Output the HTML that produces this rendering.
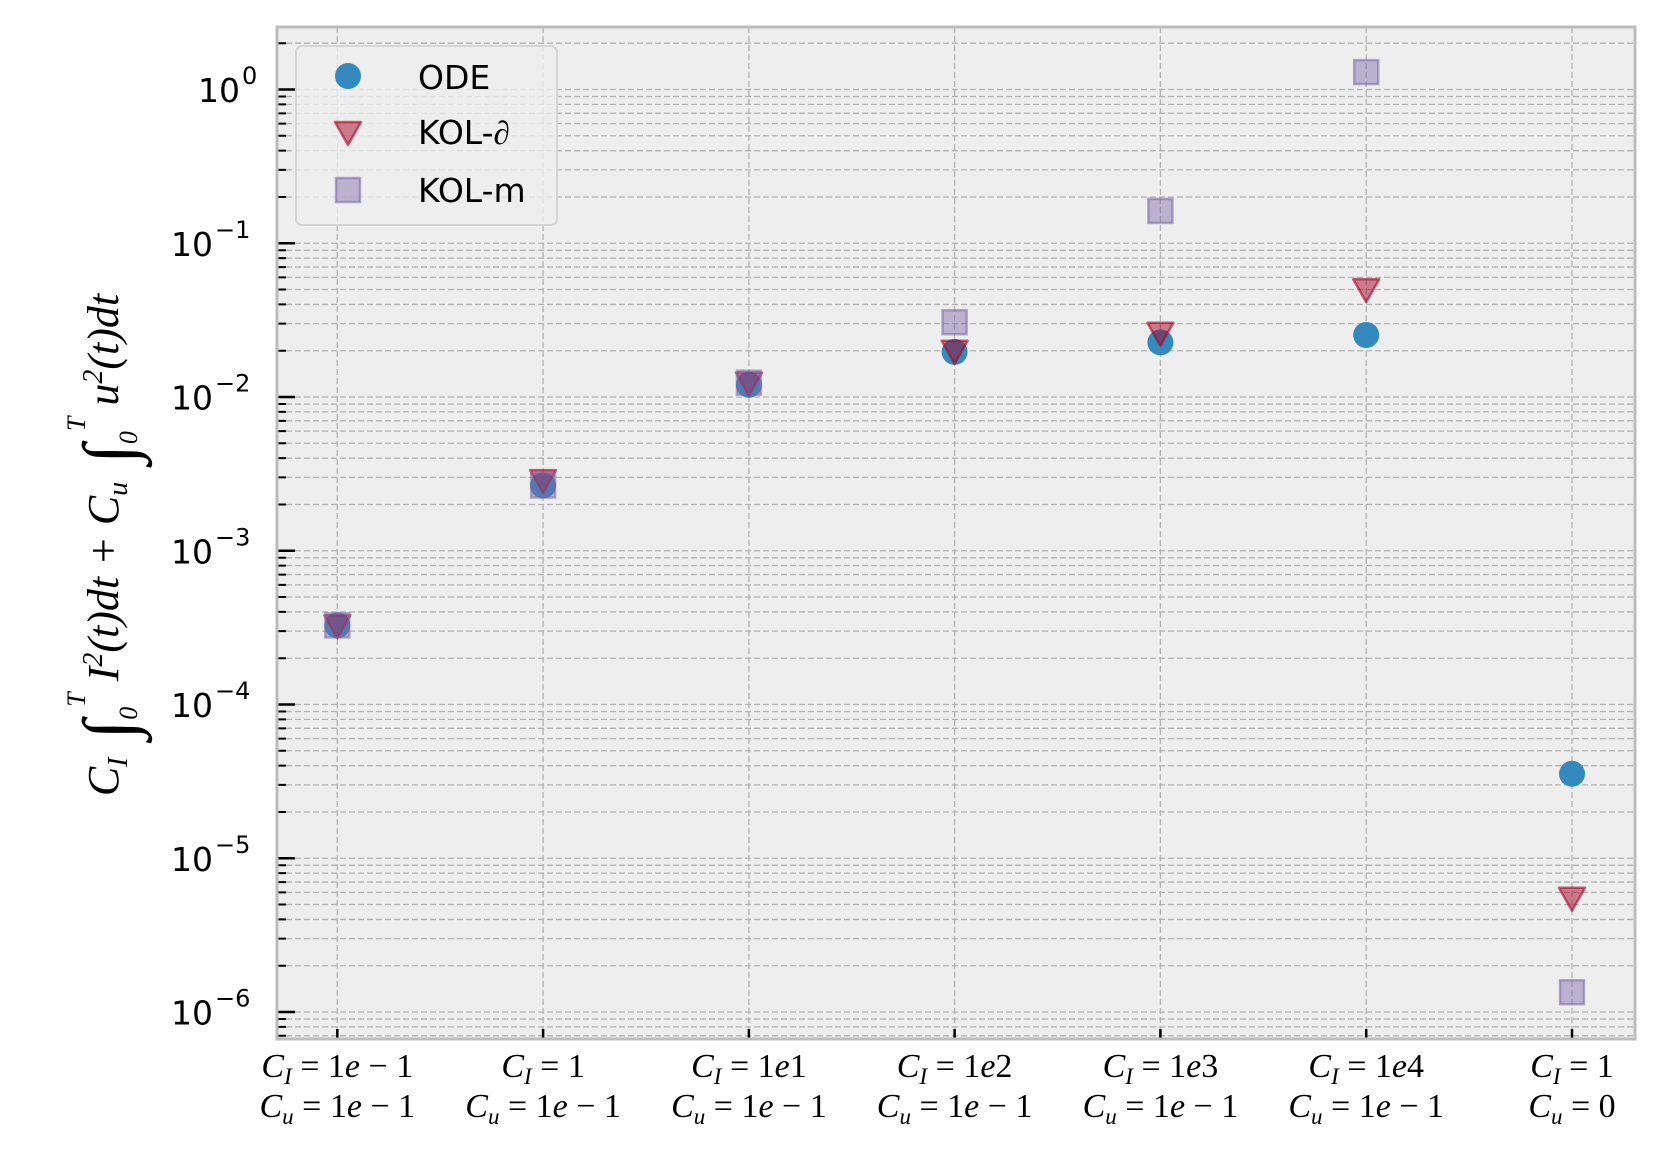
<!DOCTYPE html>
<html><head><meta charset="utf-8"><style>html,body{margin:0;padding:0;background:#fff}</style></head>
<body>
<svg width="1661" height="1153" xmlns="http://www.w3.org/2000/svg" font-family="DejaVu Sans, Liberation Sans, sans-serif">
<rect x="277" y="27" width="1358" height="1012" fill="#eeeeee"/>
<g stroke="#b2b2b2" stroke-width="1.3" stroke-dasharray="6,3" fill="none">
<path d="M277 43.2H1635M277 89.5H1635
M277 96.54H1635M277 104.4H1635M277 113.32H1635M277 123.61H1635M277 135.78H1635M277 150.68H1635M277 169.89H1635M277 196.97H1635M277 243.25H1635
M277 250.29H1635M277 258.15H1635M277 267.07H1635M277 277.36H1635M277 289.53H1635M277 304.43H1635M277 323.64H1635M277 350.72H1635M277 397H1635
M277 404.04H1635M277 411.9H1635M277 420.82H1635M277 431.11H1635M277 443.28H1635M277 458.18H1635M277 477.39H1635M277 504.47H1635M277 550.75H1635
M277 557.79H1635M277 565.65H1635M277 574.57H1635M277 584.86H1635M277 597.03H1635M277 611.93H1635M277 631.14H1635M277 658.22H1635M277 704.5H1635
M277 711.54H1635M277 719.4H1635M277 728.32H1635M277 738.61H1635M277 750.78H1635M277 765.68H1635M277 784.89H1635M277 811.97H1635M277 858.25H1635
M277 865.29H1635M277 873.15H1635M277 882.07H1635M277 892.36H1635M277 904.53H1635M277 919.43H1635M277 938.64H1635M277 965.72H1635M277 1012H1635
M277 1019.04H1635M277 1026.9H1635M277 1035.8H1635
M337.3 27V1039M543.1 27V1039M748.9 27V1039M954.6 27V1039M1160.4 27V1039M1366.2 27V1039M1572 27V1039"/>
</g>
<g stroke="#000" stroke-width="2.5" fill="none">
<path d="M277 89.5h18M277 243.25h18M277 397h18M277 550.75h18M277 704.5h18M277 858.25h18M277 1012h18
M337.3 1039v-10M543.1 1039v-10M748.9 1039v-10M954.6 1039v-10M1160.4 1039v-10M1366.2 1039v-10M1572 1039v-10"/>
<path stroke-width="2" d="M277 43.2h9
M277 96.54h9M277 104.4h9M277 113.32h9M277 123.61h9M277 135.78h9M277 150.68h9M277 169.89h9M277 196.97h9
M277 250.29h9M277 258.15h9M277 267.07h9M277 277.36h9M277 289.53h9M277 304.43h9M277 323.64h9M277 350.72h9
M277 404.04h9M277 411.9h9M277 420.82h9M277 431.11h9M277 443.28h9M277 458.18h9M277 477.39h9M277 504.47h9
M277 557.79h9M277 565.65h9M277 574.57h9M277 584.86h9M277 597.03h9M277 611.93h9M277 631.14h9M277 658.22h9
M277 711.54h9M277 719.4h9M277 728.32h9M277 738.61h9M277 750.78h9M277 765.68h9M277 784.89h9M277 811.97h9
M277 865.29h9M277 873.15h9M277 882.07h9M277 892.36h9M277 904.53h9M277 919.43h9M277 938.64h9M277 965.72h9
M277 1019.04h9M277 1026.9h9M277 1035.8h9"/>
</g>
<rect x="277" y="27" width="1358" height="1012" fill="none" stroke="#bcbcbc" stroke-width="3"/>

<g font-size="33" text-anchor="end">
<text x="240" y="102">10</text><text x="242" y="84" font-size="24" text-anchor="start">0</text>
<text x="213" y="255.75">10</text><text x="215" y="237.75" font-size="24" text-anchor="start">−1</text>
<text x="213" y="409.5">10</text><text x="215" y="391.5" font-size="24" text-anchor="start">−2</text>
<text x="213" y="563.25">10</text><text x="215" y="545.25" font-size="24" text-anchor="start">−3</text>
<text x="213" y="717">10</text><text x="215" y="699" font-size="24" text-anchor="start">−4</text>
<text x="213" y="870.75">10</text><text x="215" y="852.75" font-size="24" text-anchor="start">−5</text>
<text x="213" y="1024.5">10</text><text x="215" y="1006.5" font-size="24" text-anchor="start">−6</text>
</g>

<g font-size="34" text-anchor="middle" font-family="Liberation Serif, serif">
<text x="337.3" y="1077"><tspan font-style="italic">C</tspan><tspan font-style="italic" font-size="23" dy="7">I</tspan><tspan dy="-7"> = 1<tspan font-style="italic">e</tspan> − 1</tspan></text>
<text x="337.3" y="1117"><tspan font-style="italic">C</tspan><tspan font-style="italic" font-size="23" dy="7">u</tspan><tspan dy="-7"> = 1<tspan font-style="italic">e</tspan> − 1</tspan></text>
<text x="543.1" y="1077"><tspan font-style="italic">C</tspan><tspan font-style="italic" font-size="23" dy="7">I</tspan><tspan dy="-7"> = 1</tspan></text>
<text x="543.1" y="1117"><tspan font-style="italic">C</tspan><tspan font-style="italic" font-size="23" dy="7">u</tspan><tspan dy="-7"> = 1<tspan font-style="italic">e</tspan> − 1</tspan></text>
<text x="748.9" y="1077"><tspan font-style="italic">C</tspan><tspan font-style="italic" font-size="23" dy="7">I</tspan><tspan dy="-7"> = 1<tspan font-style="italic">e</tspan>1</tspan></text>
<text x="748.9" y="1117"><tspan font-style="italic">C</tspan><tspan font-style="italic" font-size="23" dy="7">u</tspan><tspan dy="-7"> = 1<tspan font-style="italic">e</tspan> − 1</tspan></text>
<text x="954.6" y="1077"><tspan font-style="italic">C</tspan><tspan font-style="italic" font-size="23" dy="7">I</tspan><tspan dy="-7"> = 1<tspan font-style="italic">e</tspan>2</tspan></text>
<text x="954.6" y="1117"><tspan font-style="italic">C</tspan><tspan font-style="italic" font-size="23" dy="7">u</tspan><tspan dy="-7"> = 1<tspan font-style="italic">e</tspan> − 1</tspan></text>
<text x="1160.4" y="1077"><tspan font-style="italic">C</tspan><tspan font-style="italic" font-size="23" dy="7">I</tspan><tspan dy="-7"> = 1<tspan font-style="italic">e</tspan>3</tspan></text>
<text x="1160.4" y="1117"><tspan font-style="italic">C</tspan><tspan font-style="italic" font-size="23" dy="7">u</tspan><tspan dy="-7"> = 1<tspan font-style="italic">e</tspan> − 1</tspan></text>
<text x="1366.2" y="1077"><tspan font-style="italic">C</tspan><tspan font-style="italic" font-size="23" dy="7">I</tspan><tspan dy="-7"> = 1<tspan font-style="italic">e</tspan>4</tspan></text>
<text x="1366.2" y="1117"><tspan font-style="italic">C</tspan><tspan font-style="italic" font-size="23" dy="7">u</tspan><tspan dy="-7"> = 1<tspan font-style="italic">e</tspan> − 1</tspan></text>
<text x="1572" y="1077"><tspan font-style="italic">C</tspan><tspan font-style="italic" font-size="23" dy="7">I</tspan><tspan dy="-7"> = 1</tspan></text>
<text x="1572" y="1117"><tspan font-style="italic">C</tspan><tspan font-style="italic" font-size="23" dy="7">u</tspan><tspan dy="-7"> = 0</tspan></text>
</g>

<text transform="translate(118,545) rotate(-90)" font-size="44" text-anchor="middle" font-family="Liberation Serif, serif" font-style="italic">C<tspan font-size="28" dy="9">I</tspan><tspan dy="6" font-style="normal" font-size="72"> ∫</tspan><tspan font-size="26" dy="4">0</tspan><tspan font-size="26" dy="-52">T</tspan><tspan dy="33"> I</tspan><tspan font-size="28" dy="-16">2</tspan><tspan dy="16">(t)dt + C</tspan><tspan font-size="28" dy="9">u</tspan><tspan dy="6" font-style="normal" font-size="72"> ∫</tspan><tspan font-size="26" dy="4">0</tspan><tspan font-size="26" dy="-52">T</tspan><tspan dy="33"> u</tspan><tspan font-size="28" dy="-16">2</tspan><tspan dy="16">(t)dt</tspan></text>

<g fill="#348abd">
<circle cx="337.3" cy="625.4" r="13"/><circle cx="543.1" cy="485.5" r="13"/><circle cx="748.9" cy="384.8" r="13"/><circle cx="954.6" cy="351.9" r="13"/><circle cx="1160.4" cy="342.4" r="13"/><circle cx="1366.2" cy="335" r="13"/><circle cx="1572" cy="773.8" r="13"/>
</g>
<g fill="rgba(166,6,40,0.5)" stroke="rgba(166,6,40,0.6)" stroke-width="2.5" stroke-linejoin="round">
<path d="M324.3 615.3h26l-13 23z"/><path d="M530.1 470.1h26l-13 23z"/><path d="M735.9 372.6h26l-13 23z"/><path d="M941.6 340.8h26l-13 23z"/><path d="M1147.4 322.8h26l-13 23z"/><path d="M1353.2 279.3h26l-13 23z"/><path d="M1559 887.8h26l-13 23z"/>
</g>
<g fill="rgba(122,104,166,0.45)" stroke="rgba(122,104,166,0.55)" stroke-width="2.5">
<rect x="325.3" y="613.4" width="24" height="24"/><rect x="531.1" y="473.5" width="24" height="24"/><rect x="736.9" y="370.7" width="24" height="24"/><rect x="942.6" y="310.2" width="24" height="24"/><rect x="1148.4" y="198.9" width="24" height="24"/><rect x="1354.2" y="60.1" width="24" height="24"/><rect x="1560" y="980.2" width="24" height="24"/>
</g>

<rect x="296" y="46" width="261" height="179" rx="6" fill="#eeeeee" fill-opacity="0.8" stroke="#d5d5d5" stroke-width="2"/>
<circle cx="348" cy="76" r="13" fill="#348abd"/>
<path d="M335 122h26l-13 23z" fill="rgba(166,6,40,0.5)" stroke="rgba(166,6,40,0.6)" stroke-width="2.5" stroke-linejoin="round"/>
<rect x="336" y="178" width="24" height="24" fill="rgba(122,104,166,0.45)" stroke="rgba(122,104,166,0.55)" stroke-width="2.5"/>
<text x="418" y="89" font-size="33">ODE</text>
<text x="418" y="144" font-size="33">KOL-<tspan font-family="Liberation Serif, serif" font-style="italic">∂</tspan></text>
<text x="418" y="202" font-size="33">KOL-m</text>
</svg>
</body></html>
